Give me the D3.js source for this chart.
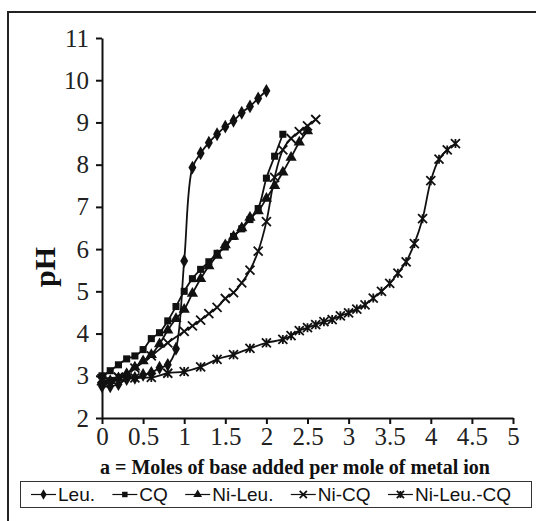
<!DOCTYPE html>
<html>
<head>
<meta charset="utf-8">
<script src="https://cdn.jsdelivr.net/npm/d3@7"></script>
<style>
  body { margin: 0; background: #fff; }
  svg { display: block; }
</style>
</head>
<body>
<div id="chart"></div>
<script>
// moles of base per mole of metal ion (a) and pH for each titration curve
const leuA  = [0, 0.1, 0.2, 0.3, 0.4, 0.5, 0.6, 0.7, 0.8, 0.9, 1.0, 1.1, 1.2, 1.3, 1.4, 1.5, 1.6, 1.7, 1.8, 1.9, 2.0]
const leuPH = [2.75, 2.75, 2.8, 2.92, 2.95, 3.02, 3.07, 3.19, 3.26, 3.64, 5.72, 7.93, 8.27, 8.52, 8.72, 8.9, 9.04, 9.23, 9.38, 9.57, 9.75]

const cqA  = [0, 0.1, 0.2, 0.3, 0.4, 0.5, 0.6, 0.7, 0.8, 0.9, 1.0, 1.1, 1.2, 1.3, 1.4, 1.5, 1.6, 1.7, 1.8, 1.9, 2.0, 2.1, 2.2]
const cqPH = [3.0, 3.12, 3.26, 3.4, 3.47, 3.62, 3.88, 4.02, 4.3, 4.64, 5.0, 5.3, 5.52, 5.7, 5.9, 6.05, 6.3, 6.48, 6.7, 6.96, 7.68, 8.2, 8.72]

const niLeuA  = [0, 0.1, 0.2, 0.3, 0.4, 0.5, 0.6, 0.7, 0.8, 0.9, 1.0, 1.1, 1.2, 1.3, 1.4, 1.5, 1.6, 1.7, 1.8, 1.9, 2.0, 2.1, 2.2, 2.3, 2.4, 2.5]
const niLeuPH = [2.85, 2.88, 2.95, 3.05, 3.2, 3.35, 3.5, 3.75, 4.08, 4.35, 4.57, 4.95, 5.3, 5.6, 5.85, 6.1, 6.3, 6.5, 6.75, 6.9, 7.2, 7.5, 7.82, 8.17, 8.53, 8.8]

const niCqA  = [0, 0.2, 0.4, 0.6, 0.8, 1.0, 1.1, 1.2, 1.3, 1.4, 1.5, 1.6, 1.7, 1.8, 1.9, 2.0, 2.1, 2.2, 2.3, 2.4, 2.5, 2.6]
const niCqPH = [2.88, 2.97, 3.18, 3.47, 3.78, 4.05, 4.18, 4.32, 4.47, 4.62, 4.83, 4.97, 5.2, 5.5, 5.95, 6.65, 7.7, 8.35, 8.62, 8.78, 8.92, 9.07]

const niLeuCqA  = [0, 0.2, 0.4, 0.6, 0.8, 1.0, 1.2, 1.4, 1.6, 1.8, 2.0, 2.2, 2.3, 2.4, 2.5, 2.6, 2.7, 2.8, 2.9, 3.0, 3.1, 3.2, 3.3, 3.4, 3.5, 3.6, 3.7, 3.8, 3.9, 4.0, 4.1, 4.2, 4.3]
const niLeuCqPH = [2.93, 2.96, 2.95, 2.96, 3.06, 3.1, 3.21, 3.39, 3.5, 3.65, 3.78, 3.86, 3.95, 4.07, 4.14, 4.21, 4.28, 4.33, 4.42, 4.49, 4.58, 4.68, 4.84, 5.0, 5.19, 5.43, 5.7, 6.13, 6.72, 7.62, 8.13, 8.35, 8.5]

const seriesNames = ["Leu.", "CQ", "Ni-Leu.", "Ni-CQ", "Ni-Leu.-CQ"]
const seriesMarks = ["diamond", "square", "triangle", "cross", "star"]

const xTicks = [0, 0.5, 1, 1.5, 2, 2.5, 3, 3.5, 4, 4.5, 5]
const yTicks = [2, 3, 4, 5, 6, 7, 8, 9, 10, 11]

const xTitle = "a = Moles of base added per mole of metal ion"
const yTitle = "pH"

const series = [
    [leuA, leuPH], [cqA, cqPH], [niLeuA, niLeuPH], [niCqA, niCqPH], [niLeuCqA, niLeuCqPH]
].map((s, i) => ({
    name: seriesNames[i],
    mark: seriesMarks[i],
    points: s[0].map((a, j) => [a, s[1][j]])
}))

const width = 536
const height = 521
const serif = "'Liberation Serif', 'Times New Roman', serif"
const sans = "'Liberation Sans', Arial, sans-serif"

const svg = d3.select("#chart")
    .append("svg")
    .attr("width", width)
    .attr("height", height)

// outer frame, cropped on the right and at the bottom
svg.append("rect")
    .attr("x", 8)
    .attr("y", 12)
    .attr("width", 600)
    .attr("height", 600)
    .attr("fill", "none")
    .attr("stroke", "#222")
    .attr("stroke-width", 2)

const x = d3.scaleLinear().domain([0, 5]).range([102, 513])
const y = d3.scaleLinear().domain([2, 11]).range([418, 38])

const xAxis = svg.append("g")
    .attr("transform", "translate(0," + y(2) + ")")
    .call(d3.axisBottom(x).tickValues(xTicks).tickSize(6).tickSizeOuter(0).tickPadding(3)
        .tickFormat(d => d))
const yAxis = svg.append("g")
    .attr("transform", "translate(" + x(0) + ",0)")
    .call(d3.axisLeft(y).tickValues(yTicks).tickSize(6).tickSizeOuter(0).tickPadding(7))

;[xAxis, yAxis].forEach(g => {
    g.select(".domain").attr("stroke", "#111").attr("stroke-width", 2)
    g.selectAll(".tick line").attr("stroke", "#111").attr("stroke-width", 2)
    g.selectAll(".tick text")
        .attr("fill", "#222")
        .style("font-family", serif)
        .style("font-size", "25px")
})

svg.append("text")
    .text(yTitle)
    .attr("transform", "translate(55,267) rotate(-90)")
    .attr("text-anchor", "middle")
    .style("font-family", serif)
    .style("font-weight", "bold")
    .style("font-size", "30px")
    .attr("fill", "#111")

svg.append("text")
    .text(xTitle)
    .attr("x", 295)
    .attr("y", 474)
    .attr("text-anchor", "middle")
    .style("font-family", serif)
    .style("font-weight", "bold")
    .style("font-size", "20px")
    .attr("fill", "#111")

function drawMark(g, kind, cx, cy, s) {
    s = s || 1
    if (kind === "diamond") {
        g.append("path").attr("d", d3.symbol(d3.symbolDiamond, 55 * s)())
            .attr("transform", "translate(" + cx + "," + cy + ")").attr("fill", "#111")
    } else if (kind === "square") {
        g.append("path").attr("d", d3.symbol(d3.symbolSquare, 50 * s)())
            .attr("transform", "translate(" + cx + "," + cy + ")").attr("fill", "#111")
    } else if (kind === "triangle") {
        g.append("path").attr("d", d3.symbol(d3.symbolTriangle, 55 * s)())
            .attr("transform", "translate(" + cx + "," + cy + ")").attr("fill", "#111")
    } else {
        const r = 4.5 * s
        let d = "M" + (cx - r) + "," + (cy - r) + "L" + (cx + r) + "," + (cy + r) +
            "M" + (cx - r) + "," + (cy + r) + "L" + (cx + r) + "," + (cy - r)
        if (kind === "star") d += "M" + cx + "," + (cy - r) + "L" + cx + "," + (cy + r)
        g.append("path").attr("d", d).attr("stroke", "#111").attr("stroke-width", 1.8).attr("fill", "none")
    }
}

const line = d3.line()
    .x(d => x(d[0]))
    .y(d => y(d[1]))
    .curve(d3.curveCatmullRom.alpha(0.5))

series.forEach(s => {
    const g = svg.append("g")
    g.append("path")
        .attr("d", line(s.points))
        .attr("fill", "none")
        .attr("stroke", "#111")
        .attr("stroke-width", 1.8)
    s.points.forEach(p => drawMark(g, s.mark, x(p[0]), y(p[1])))
})

// legend
const legend = svg.append("g")
legend.append("rect")
    .attr("x", 20.5)
    .attr("y", 481.5)
    .attr("width", 511)
    .attr("height", 26)
    .attr("fill", "#fff")
    .attr("stroke", "#333")
    .attr("stroke-width", 1)

const items = series.map(s => {
    const item = legend.append("g")
    const t = item.append("text")
        .text(s.name)
        .attr("y", 501)
        .style("font-family", sans)
        .style("font-size", "19px")
        .attr("fill", "#111")
    return { s, item, t, w: t.node().getComputedTextLength() }
})
const lineLen = 25
const startX = 31, endX = 511
const gap = (endX - startX - d3.sum(items, d => lineLen + 2 + d.w)) / (items.length - 1)
let lx = startX
items.forEach(d => {
    d.item.append("line")
        .attr("x1", lx).attr("x2", lx + lineLen)
        .attr("y1", 494.5).attr("y2", 494.5)
        .attr("stroke", "#111").attr("stroke-width", 1.2)
    drawMark(d.item, d.s.mark, lx + lineLen / 2, 494.5, d.s.mark === "cross" || d.s.mark === "star" ? 0.8 : 0.6)
    d.t.attr("x", lx + lineLen + 2)
    lx += lineLen + 2 + d.w + gap
})
</script>
</body>
</html>
